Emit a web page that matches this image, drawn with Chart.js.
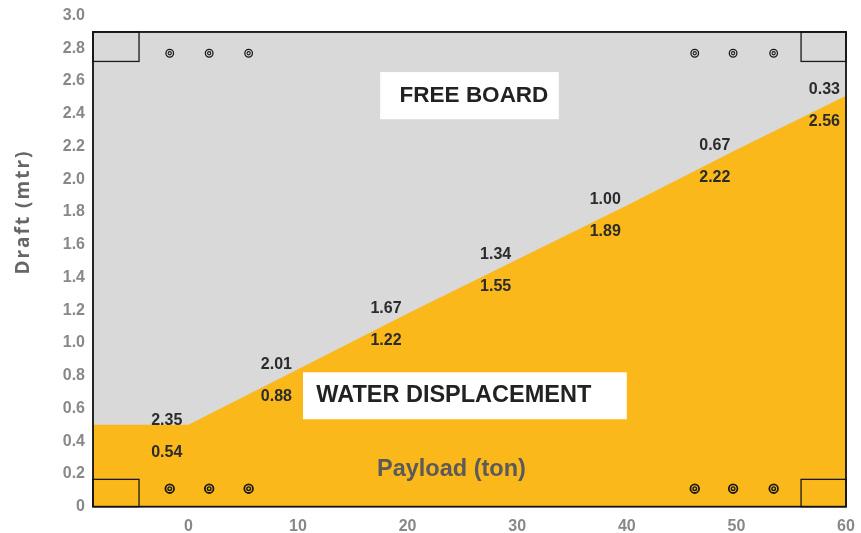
<!DOCTYPE html>
<html lang="en">
<head>
<meta charset="UTF-8">
<title>Draft vs Payload</title>
<script src="https://cdn.jsdelivr.net/npm/chart.js@4.4.0/dist/chart.umd.min.js"></script>
<style>
    html, body { margin: 0; padding: 0; background: #fff; }
    #wrap { width: 861px; height: 533px; position: relative; }
</style>
</head>
<body>
<div id="wrap"><canvas id="draftChart"></canvas></div>
<script>
// values
const payload = [0, 10, 20, 30, 40, 50, 60];
const freeBoard = [2.35, 2.01, 1.67, 1.34, 1.00, 0.67, 0.33];
const displacement = [0.54, 0.88, 1.22, 1.55, 1.89, 2.22, 2.56];
// waterline as it is drawn (a little under the printed values)
const waterLine = [0.50, 0.84, 1.18, 1.51, 1.84, 2.18, 2.51];
const xMin = -8.7;
const xMax = 60;
const hullTop = 2.9;
const markX = [-1.7, 1.9, 5.5, 46.2, 49.7, 53.4];
const markTopY = 2.77;
const markBottomY = 0.11;

const GREY = '#d9d9d9';
const ORANGE = '#fbb81a';
const NUM_FONT = '"Liberation Sans", Arial, sans-serif';

const waterPoints = [{ x: xMin, y: waterLine[0] }].concat(payload.map((p, i) => ({ x: p, y: waterLine[i] })));
const marks = markX.map(v => ({ x: v, y: markTopY })).concat(markX.map(v => ({ x: v, y: markBottomY })));
const isTop = i => i < markX.length;

// text, hull outline and the little corner boxes
const overlay = {
    id: 'overlay',
    afterDraw(chart) {
        const { ctx, scales: { x, y } } = chart;
        const px = v => x.getPixelForValue(v);
        const py = v => y.getPixelForValue(v);
        ctx.save();

        // corner boxes
        ctx.strokeStyle = '#1a1a1a';
        ctx.lineWidth = 1.3;
        const boxes = [[xMin, -4.5, 2.72, hullTop], [xMin, -4.5, 0, 0.167], [55.9, xMax, 2.72, hullTop], [55.9, xMax, 0, 0.167]];
        boxes.forEach(b => {
            ctx.strokeRect(px(b[0]), py(b[3]), px(b[1]) - px(b[0]), py(b[2]) - py(b[3]));
        });

        // hull outline
        ctx.strokeStyle = '#111';
        ctx.lineWidth = 1.8;
        ctx.strokeRect(px(xMin), py(hullTop), px(xMax) - px(xMin), py(0) - py(hullTop));

        // white label boxes
        ctx.fillStyle = '#fff';
        ctx.fillRect(px(17.5), py(2.655), px(33.8) - px(17.5), py(2.367) - py(2.655));
        ctx.fillRect(px(10.46), py(0.821), px(40.0) - px(10.46), py(0.534) - py(0.821));

        ctx.textBaseline = 'middle';
        ctx.fillStyle = '#222';
        ctx.font = 'bold 22.5px ' + NUM_FONT;
        ctx.textAlign = 'center';
        ctx.fillText('FREE BOARD', px(26.06), py(2.51));
        ctx.font = 'bold 23.5px ' + NUM_FONT;
        ctx.textAlign = 'left';
        ctx.fillText('WATER DISPLACEMENT', px(11.67), py(0.677));

        ctx.fillStyle = '#5a5a5a';
        ctx.textAlign = 'center';
        ctx.fillText('Payload (ton)', px(24), py(0.23));

        // free board / displacement pairs
        ctx.font = 'bold 16px ' + NUM_FONT;
        ctx.fillStyle = '#2b2b2b';
        ctx.textAlign = 'right';
        payload.forEach((p, i) => {
            const lx = px(p) - 6;
            const ly = py(displacement[i]) + 2;
            ctx.fillText(freeBoard[i].toFixed(2), lx, ly);
            ctx.fillText(displacement[i].toFixed(2), lx, ly + 32);
        });

        // y axis title
        ctx.translate(24, py(1.8));
        ctx.rotate(-Math.PI / 2);
        ctx.textAlign = 'center';
        ctx.fillStyle = '#666';
        ctx.font = 'bold 19px "Open Sans", sans-serif';
        ctx.letterSpacing = '2px';
        ctx.fillText('Draft (mtr)', 0, 0);
        ctx.restore();
    }
};

new Chart(document.getElementById('draftChart'), {
    type: 'scatter',
    data: {
        datasets: [
            {
                label: 'Free board',
                type: 'line',
                data: [{ x: xMin, y: hullTop }, { x: xMax, y: hullTop }],
                borderWidth: 0,
                pointRadius: 0,
                fill: 'origin',
                backgroundColor: GREY,
                order: 4
            },
            {
                label: 'Water displacement',
                type: 'line',
                data: waterPoints,
                borderWidth: 0,
                pointRadius: 0,
                tension: 0,
                fill: 'origin',
                backgroundColor: ORANGE,
                order: 3
            },
            {
                label: 'marks outer',
                data: marks,
                pointRadius: ctx => (isTop(ctx.dataIndex) ? 3.8 : 4.3),
                borderWidth: ctx => (isTop(ctx.dataIndex) ? 1.3 : 1.8),
                borderColor: '#1a1a1a',
                backgroundColor: 'transparent',
                order: 2
            },
            {
                label: 'marks inner',
                data: marks,
                pointRadius: ctx => (isTop(ctx.dataIndex) ? 1.6 : 1.8),
                borderWidth: ctx => (isTop(ctx.dataIndex) ? 1.1 : 1.4),
                borderColor: '#1a1a1a',
                backgroundColor: 'transparent',
                order: 1
            }
        ]
    },
    options: {
        responsive: true,
        maintainAspectRatio: false,
        animation: false,
        layout: { padding: { top: 15.6, right: 0, left: 0, bottom: 0 } },
        plugins: {
            legend: { display: false },
            tooltip: { enabled: false }
        },
        scales: {
            x: {
                type: 'linear',
                min: xMin,
                max: xMax,
                z: 1,
                border: { display: false },
                grid: { color: '#fff', lineWidth: 1.5, drawTicks: false },
                ticks: {
                    stepSize: 10,
                    includeBounds: false,
                    padding: 10,
                    color: '#888',
                    font: { family: NUM_FONT, size: 16, weight: 'bold' }
                },
                afterFit(scale) {
                    scale.height = 26.3;
                    scale.paddingLeft = 0;
                    scale.paddingRight = 15;
                }
            },
            y: {
                min: 0,
                max: 3.0,
                border: { display: false },
                grid: { display: false, drawTicks: false },
                ticks: {
                    stepSize: 0.2,
                    padding: 8,
                    color: '#888',
                    font: { family: NUM_FONT, size: 16, weight: 'bold' },
                    callback: v => (Math.abs(v) < 1e-9 ? '0' : v.toFixed(1))
                },
                afterFit(scale) {
                    scale.width = 93;
                    scale.paddingTop = 0;
                    scale.paddingBottom = 0;
                }
            }
        }
    },
    plugins: [overlay]
});
</script>
</body>
</html>
